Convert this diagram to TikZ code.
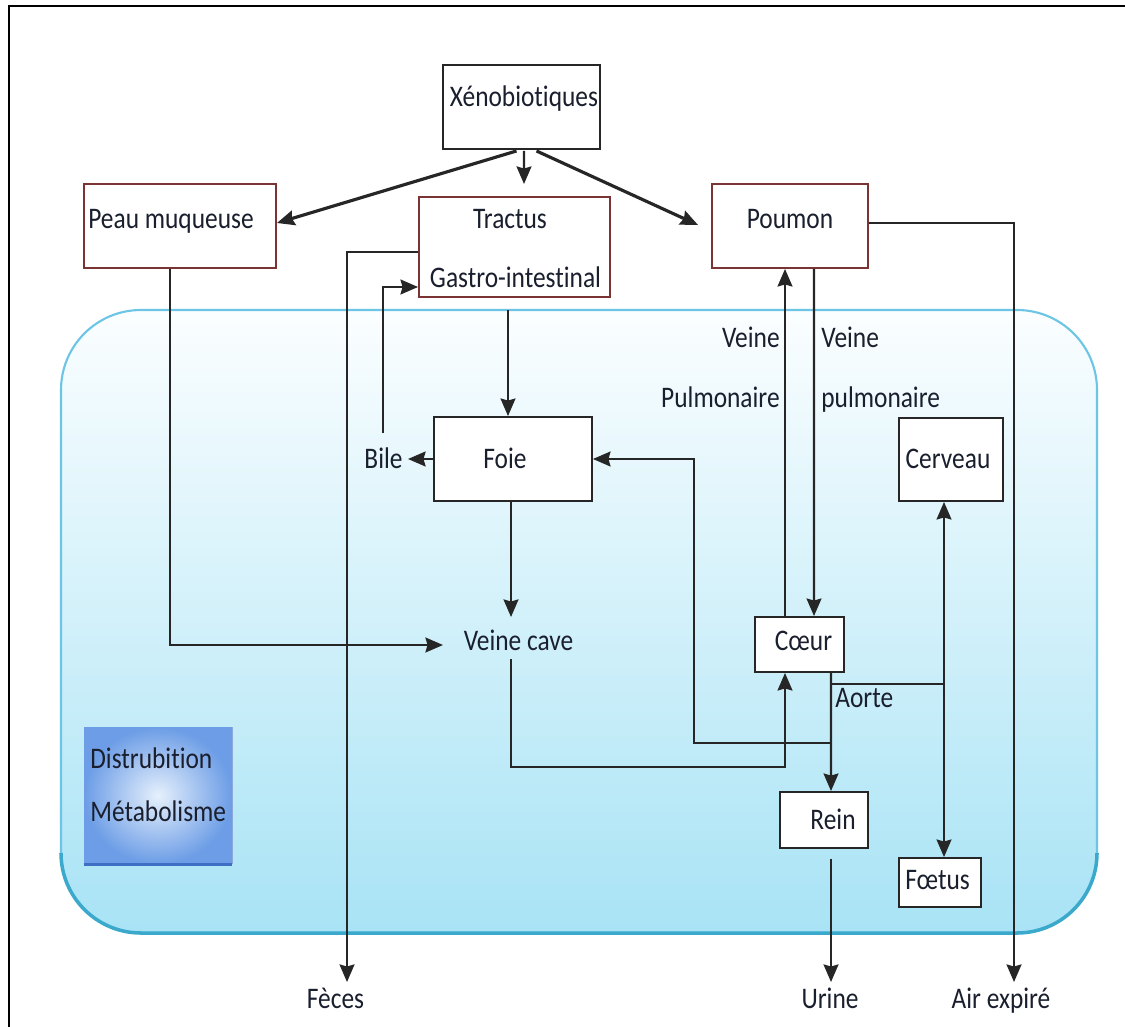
\documentclass[tikz,border=0pt]{standalone}
\usepackage{fontspec}
\setmainfont{Carlito}[FakeStretch=0.85, Ligatures={NoCommon,NoRare}]
\usetikzlibrary{arrows.meta,calc}
\definecolor{boxred}{HTML}{7A3434}
\definecolor{linec}{HTML}{262626}
\definecolor{txtc}{HTML}{1A1F2E}
\definecolor{bluestroke}{HTML}{6CC5E4}
\definecolor{bluedark}{HTML}{3AA9CC}
\definecolor{bgtop}{HTML}{FBFEFF}
\definecolor{bgbot}{HTML}{A8E3F5}
\definecolor{distin}{HTML}{E6F0FC}
\definecolor{distout}{HTML}{6C9DE6}
\definecolor{distedge}{HTML}{3F6FC4}
\begin{document}
\begin{tikzpicture}[x=0.02cm,y=-0.02cm,
  box/.style={draw=black!85, line width=1.1pt, fill=white, inner sep=0pt},
  redbox/.style={box, draw=boxred},
  txt/.style={font=\fontsize{17}{20}\selectfont, text=txtc, inner sep=0pt, anchor=base},
  ln/.style={draw=linec, line width=1.2pt},
  arr/.style={ln, -{Stealth[length=10pt,width=8.5pt,inset=1.2pt]}},
  bigarr/.style={arr, line width=1.8pt}]
\useasboundingbox (0,0) rectangle (1125,1027);
\fill[white] (0,0) rectangle (1125,1027);
\draw[line width=1.7pt] (9,1027) -- (9,6) -- (1125,6);

% body region
\shade[top color=bgtop, bottom color=bgbot, rounded corners=1.6cm] (61,310) rectangle (1097,933);
\draw[bluestroke, line width=1.2pt, rounded corners=1.6cm] (61,310) rectangle (1097,933);
\draw[bluedark, line width=2pt, rounded corners=1.6cm] (61,853) -- (61,933) -- (1097,933) -- (1097,853);

% boxes
\node[box, minimum width=3.14cm, minimum height=1.68cm] (xeno) at (521.5,107) {};
\node[redbox, minimum width=3.84cm, minimum height=1.68cm] (peau) at (180,226) {};
\node[redbox, minimum width=3.82cm, minimum height=2.0cm] (tractus) at (514.5,247) {};
\node[redbox, minimum width=3.12cm, minimum height=1.68cm] (poumon) at (790,226) {};
\node[box, minimum width=3.16cm, minimum height=1.68cm] (foie) at (513,459) {};
\node[box, minimum width=2.08cm, minimum height=1.66cm] (cerveau) at (951,459.5) {};
\node[box, minimum width=1.78cm, minimum height=1.10cm] (coeur) at (799.5,644.5) {};
\node[box, minimum width=1.76cm, minimum height=1.12cm] (rein) at (824,820) {};
\node[box, minimum width=1.64cm, minimum height=0.98cm] (foetus) at (940,882.5) {};
\node[inner sep=0pt, minimum width=2.96cm, minimum height=2.74cm, inner color=distin, outer color=distout] (distr) at (158,795.5) {};
\draw[distedge, line width=1.6pt] (distr.south west) -- (distr.south east);
\draw[distedge!60, line width=0.8pt] (distr.south east) -- (distr.north east);

% texts
\node[txt] (xenot) at (524,107) {Xénobiotiques};
\node[txt] (peaut) at (171,229) {Peau muqueuse};
\node[txt] (tract1) at (510,229) {Tractus};
\node[txt] (tract2) at (515.5,287) {Gastro-intestinal};
\node[txt] (poumont) at (790,229) {Poumon};
\node[txt, anchor=base east] (vpl1) at (780,347) {Veine};
\node[txt, anchor=base east] (vpl2) at (780,407) {Pulmonaire};
\node[txt, anchor=base west] (vpr1) at (821,347) {Veine};
\node[txt, anchor=base west] (vpr2) at (821,407) {pulmonaire};
\node[txt] (bile) at (383.5,468) {Bile};
\node[txt] (foiet) at (505,468) {Foie};
\node[txt] (cerveaut) at (948,468) {Cerveau};
\node[txt] (vcave) at (518.5,650) {Veine cave};
\node[txt] (coeurt) at (803.5,650) {Cœur};
\node[txt, anchor=base west] (aorte) at (835,707) {Aorte};
\node[txt] (reint) at (833,829) {Rein};
\node[txt] (foetust) at (937.5,889) {Fœtus};
\node[txt, anchor=base west] (dist1) at (90,768) {Distrubition};
\node[txt, anchor=base west] (dist2) at (90,821) {Métabolisme};
\node[txt] (feces) at (335.5,1008) {Fèces};
\node[txt] (urine) at (830,1008) {Urine};
\node[txt] (air) at (1001,1008) {Air expiré};

% free ends and junctions
\coordinate (gitop) at (524,184);
\coordinate (gibot) at (508,310);
\coordinate (vcin) at (443,645);
\coordinate (vctop) at (511,617);
\coordinate (vcbot) at (511,659);
\coordinate (vcturn) at (511,767);
\coordinate (bilein) at (383,433);
\coordinate (bileout) at (408,459);
\coordinate (fecesin) at (347,982);
\coordinate (urinein) at (831,982);
\coordinate (airin) at (1014,982);
\coordinate (aorta1) at (831,684);
\coordinate (aorta2) at (831,743);
\coordinate (br) at (944,684);

% connectors
\draw[bigarr] ($(xeno.south)+(-5,1)$) -- ($(peau.east)+(0,-3)$);
\draw[arr] ($(xeno.south)+(2.5,1)$) -- (gitop);
\draw[bigarr] ($(xeno.south)+(15,1)$) -- ($(poumon.west)+(-13,-1)$);
\draw[arr] ($(peau.south)+(-10,0)$) |- (vcin);
\draw[arr] ($(tractus.west)+(0,5)$) -| (fecesin);
\draw[arr] (bilein) |- ($(tractus.west)+(0,40)$);
\draw[arr] (gibot) -- (gibot |- foie.north);
\draw[arr] (foie.west) -- (bileout);
\draw[arr] ($(foie.south)+(-2,0)$) -- (vctop);
\draw[arr] (vcbot) -- (vcturn) -| ($(coeur.south)+(-14.5,0)$);
\draw[arr] ($(coeur.north)+(-14.5,0)$) -- ($(poumon.south)+(-5,0)$);
\draw[arr] ($(poumon.south)+(24,0)$) -- ($(coeur.north)+(14.5,0)$);
\draw[arr] ($(coeur.south)+(31.5,0)$) -- ($(rein.north)+(7,0)$);
\draw[ln] (aorta1) -- (br);
\draw[arr] (br) -- ($(cerveau.south)+(-7,0)$);
\draw[arr] (br) -- ($(foetus.north)+(4,0)$);
\draw[arr] (aorta2) -| ($(foie.east)+(101,0)$) -- (foie.east);
\draw[arr] ($(rein.south)+(7,10)$) -- (urinein);
\draw[arr] ($(poumon.east)+(0,-3)$) -| (airin);
\end{tikzpicture}
\end{document}
